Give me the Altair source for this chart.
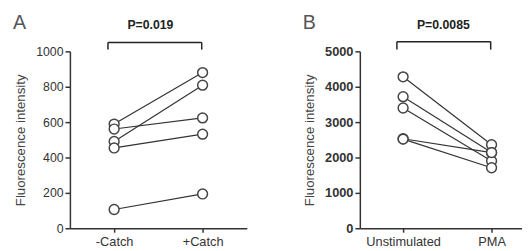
import altair as alt
import pandas as pd

# ---- data ----
a_cats = ["-Catch", "+Catch"]
a_before = [589, 561, 491, 454, 106]
a_after = [880, 624, 809, 532, 194]
a_p = "P=0.019"
a_ticks = [0, 200, 400, 600, 800, 1000]

b_cats = ["Unstimulated", "PMA"]
b_before = [4280, 3720, 3400, 2530, 2520]
b_after = [2360, 2140, 1900, 2140, 1710]
b_p = "P=0.0085"
b_ticks = [0, 1000, 2000, 3000, 4000, 5000]

FONT = "Liberation Sans"
INK = "#333333"


def panel(letter, cats, before, after, pval, ymax, ticks, xdomain, width,
          label_bold, p_x, br_x, br_top):
    rows = []
    for i, (b, a) in enumerate(zip(before, after)):
        rows.append({"pair": i, "x": 0, "v": b})
        rows.append({"pair": i, "x": 1, "v": a})
    df = pd.DataFrame(rows)

    label_expr = f"datum.value == 0 ? '{cats[0]}' : '{cats[1]}'"
    xscale = alt.Scale(domain=xdomain, nice=False, zero=False)
    xaxis = alt.Axis(values=[0, 1], labelExpr=label_expr, title=None,
                     grid=False, labelFontSize=13, labelColor=INK,
                     labelFont=FONT, tickSize=4, labelPadding=4,
                     domainColor=INK, domainWidth=1.5,
                     tickColor=INK, tickWidth=1.5, labelOverlap=False)
    yscale = alt.Scale(domain=[0, ymax], nice=False)
    yaxis = alt.Axis(values=ticks, title="Fluorescence intensity", format="d",
                     grid=False, labelFontSize=12.5 if not label_bold else 13,
                     labelFontWeight="bold" if label_bold else "normal",
                     labelColor=INK, labelFont=FONT, tickSize=5,
                     labelPadding=2, domainColor=INK, domainWidth=1.5,
                     tickColor=INK, tickWidth=1.5, titleFont=FONT,
                     titleFontSize=13.5, titleFontWeight="normal",
                     titleColor="#444444", titlePadding=8,
                     labelOverlap=False, labelFlush=False)

    def X(f):
        return alt.X(f"{f}:Q", scale=xscale, axis=xaxis)

    def Y(f):
        return alt.Y(f"{f}:Q", scale=yscale, axis=yaxis)

    base = alt.Chart(df)
    lines = base.mark_line(color=INK, strokeWidth=1.2).encode(
        x=X("x"), y=Y("v"), detail="pair:N")
    pts = base.mark_point(shape="circle", filled=True, fill="white",
                          stroke="#444444", strokeWidth=1.5, size=100,
                          opacity=1).encode(x=X("x"), y=Y("v"))

    bt = ymax * br_top
    bb = ymax * 1.01
    br = pd.DataFrame({
        "x": [br_x[0], br_x[0], br_x[1]],
        "x2": [br_x[1], br_x[0], br_x[1]],
        "y": [bt, bt, bt],
        "y2": [bt, bb, bb],
    })
    bracket = alt.Chart(br).mark_rule(color="#222222", strokeWidth=1.5).encode(
        x=X("x"), x2="x2:Q", y=Y("y"), y2="y2:Q")

    ptext = alt.Chart(pd.DataFrame({"t": [pval], "x": [p_x]})).mark_text(
        font=FONT, fontSize=12.5, fontWeight="bold", color="#222222",
        align="center", baseline="middle").encode(
        x=X("x"), y=alt.value(-27), text="t:N")

    ltext = alt.Chart(pd.DataFrame({"t": [letter]})).mark_text(
        font=FONT, fontSize=20, fontWeight="normal", color="#555555",
        align="left", baseline="middle").encode(
        x=alt.value(-58), y=alt.value(-29), text="t:N")

    return alt.layer(lines, pts, bracket, ptext, ltext).properties(
        width=width, height=180)


pa = panel("A", a_cats, a_before, a_after, a_p, 1000, a_ticks,
           [-0.5, 1.5], 180, False, 0.41, (-0.07, 0.99), 1.05)
pb = panel("B", b_cats, b_before, b_after, b_p, 5000, b_ticks,
           [-0.489, 1.344], 165, True, 0.455, (-0.07, 0.99), 1.055)

chart = alt.hconcat(pa, pb, spacing=57).properties(
    padding={"left": 5, "top": 3, "right": 0, "bottom": 0},
    background="white",
).configure_view(stroke=None)

chart.save("out.html", embed_options={"renderer": "svg", "actions": False})
